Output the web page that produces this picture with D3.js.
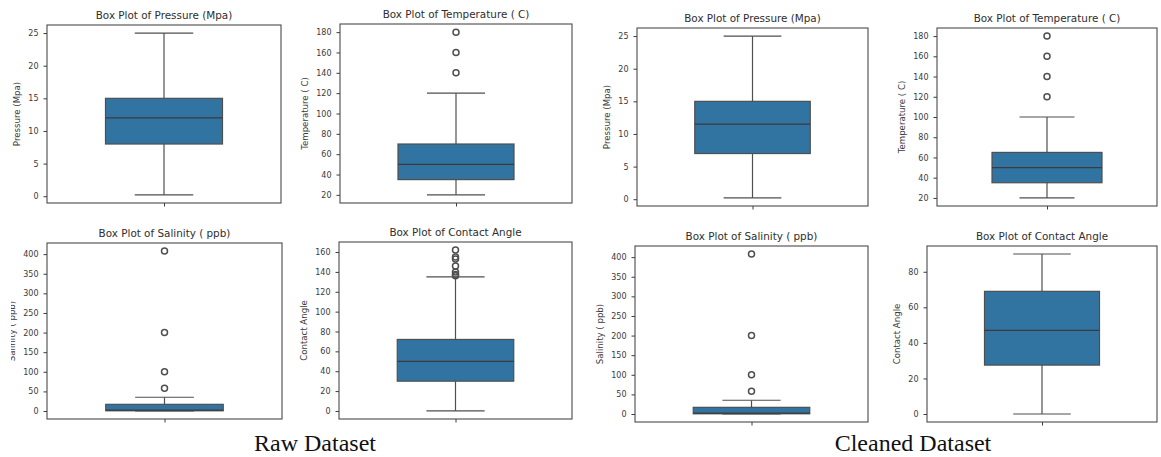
<!DOCTYPE html>
<html lang="en">
<head>
<meta charset="UTF-8">
<title>Box plots - raw vs cleaned</title>
<script src="https://cdn.jsdelivr.net/npm/d3@7"></script>
<style>
    html, body { margin: 0; padding: 0; background: #fff; }
    svg { display: block; }
    .tick text { font-family: "DejaVu Sans", sans-serif; font-size: 8px; fill: #3a3a3a; }
    .tick line { stroke: #3a3a3a; }
</style>
</head>
<body>
<svg width="1161" height="457"></svg>
<script>
    // ---- data ----
    var datasets = ["Raw Dataset", "Cleaned Dataset"];
    var variables = ["Pressure (Mpa)", "Temperature ( C)", "Salinity ( ppb)", "Contact Angle"];
    var titles = ["Box Plot of Pressure (Mpa)", "Box Plot of Temperature ( C)", "Box Plot of Salinity ( ppb)", "Box Plot of Contact Angle"];

    // raw dataset, per variable
    var rawLow = [0.2, 20, 0, 0];
    var rawQ1 = [8, 35, 0.5, 30];
    var rawMedian = [12, 50, 2, 50];
    var rawQ3 = [15, 70, 17, 72];
    var rawHigh = [25, 120, 35, 135];
    var rawOutliers = [[], [140, 160, 180], [58, 100, 200, 408], [136, 137.5, 140, 146, 153, 155, 162]];
    var rawTicks = [[0, 5, 10, 15, 20, 25], [20, 40, 60, 80, 100, 120, 140, 160, 180],
        [0, 50, 100, 150, 200, 250, 300, 350, 400], [0, 20, 40, 60, 80, 100, 120, 140, 160]];

    // cleaned dataset, per variable
    var cleanLow = [0.2, 20, 0, 0];
    var cleanQ1 = [7, 35, 0.5, 27.5];
    var cleanMedian = [11.5, 50, 2, 47];
    var cleanQ3 = [15, 65, 17, 69];
    var cleanHigh = [25, 100, 35, 90];
    var cleanOutliers = [[], [120, 140, 160, 180], [58, 100, 200, 408], []];
    var cleanTicks = [[0, 5, 10, 15, 20, 25], [20, 40, 60, 80, 100, 120, 140, 160, 180],
        [0, 50, 100, 150, 200, 250, 300, 350, 400], [0, 20, 40, 60, 80]];

    // ---- layout ----
    var svg = d3.select('svg');
    var boxFill = '#3274a1';
    var lineColor = '#4f4f4f';

    // axes frames [left, top, right, bottom]
    var frames = [
        [[47, 25, 281, 203], [340, 24, 572, 203], [47, 243, 282, 419], [339, 242, 572, 419]],
        [[637, 28, 868, 206], [937, 28, 1157, 206], [635, 246, 868, 422], [927, 246, 1157, 422]]
    ];
    var captionX = [315, 913];

    var defs = svg.append('defs');
    defs.append('clipPath').attr('id', 'cutLabel').attr('clipPathUnits', 'userSpaceOnUse')
        .append('rect').attr('x', 11).attr('y', 0).attr('width', 1150).attr('height', 457);

    function stats(d, i) {
        if (d === 0) {
            return { low: rawLow[i], q1: rawQ1[i], med: rawMedian[i], q3: rawQ3[i], high: rawHigh[i], out: rawOutliers[i], ticks: rawTicks[i] };
        }
        return { low: cleanLow[i], q1: cleanQ1[i], med: cleanMedian[i], q3: cleanQ3[i], high: cleanHigh[i], out: cleanOutliers[i], ticks: cleanTicks[i] };
    }

    function drawPanel(d, i) {
        var s = stats(d, i);
        var f = frames[d][i];
        var left = f[0], top = f[1], right = f[2], bottom = f[3];

        var lo = d3.min([s.low].concat(s.out));
        var hi = d3.max([s.high].concat(s.out));
        var pad = (hi - lo) * 0.05;

        var y = d3.scaleLinear().domain([lo - pad, hi + pad]).range([bottom, top]);
        var x = d3.scaleLinear().domain([-0.5, 0.5]).range([left, right]);

        var g = svg.append('g').attr('class', 'panel');

        // whiskers
        g.append('line')
            .attr('x1', x(0)).attr('x2', x(0)).attr('y1', y(s.q1)).attr('y2', y(s.low))
            .attr('stroke', lineColor).attr('stroke-width', 1.2);
        g.append('line')
            .attr('x1', x(0)).attr('x2', x(0)).attr('y1', y(s.q3)).attr('y2', y(s.high))
            .attr('stroke', lineColor).attr('stroke-width', 1.2);
        // caps
        [s.low, s.high].forEach(function (v) {
            g.append('line')
                .attr('x1', x(-0.125)).attr('x2', x(0.125)).attr('y1', y(v)).attr('y2', y(v))
                .attr('stroke', lineColor).attr('stroke-width', 1.2);
        });
        // box
        g.append('rect')
            .attr('x', x(-0.25)).attr('width', x(0.25) - x(-0.25))
            .attr('y', y(s.q3)).attr('height', y(s.q1) - y(s.q3))
            .attr('fill', boxFill).attr('stroke', lineColor).attr('stroke-width', 1.2);
        // median
        g.append('line')
            .attr('x1', x(-0.25)).attr('x2', x(0.25)).attr('y1', y(s.med)).attr('y2', y(s.med))
            .attr('stroke', '#3b3b3b').attr('stroke-width', 1.2);
        // fliers
        g.selectAll('circle.flier').data(s.out).enter().append('circle')
            .attr('class', 'flier')
            .attr('cx', x(0)).attr('cy', function (v) { return y(v); })
            .attr('r', 3).attr('fill', 'none')
            .attr('stroke', lineColor).attr('stroke-width', 1.5);

        // axes
        var yAxis = g.append('g').attr('transform', 'translate(' + left + ',0)')
            .call(d3.axisLeft(y).tickValues(s.ticks).tickSize(3.5).tickPadding(5));
        yAxis.select('.domain').remove();
        var xAxis = g.append('g').attr('transform', 'translate(0,' + bottom + ')')
            .call(d3.axisBottom(x).tickValues([0]).tickFormat('').tickSize(3.5));
        xAxis.select('.domain').remove();

        // frame
        g.append('rect')
            .attr('x', left).attr('y', top).attr('width', right - left).attr('height', bottom - top)
            .attr('fill', 'none').attr('stroke', '#4a4a4a').attr('stroke-width', 1.1);

        // title
        g.append('text')
            .attr('x', (left + right) / 2).attr('y', top - 6.5)
            .attr('text-anchor', 'middle')
            .style('font-family', '"DejaVu Sans", sans-serif').style('font-size', '10.4px').style('fill', '#2e2e2e')
            .text(titles[i]);

        // y label, placed left of the tick labels (bbox is in the axis group's own coords)
        var bb = yAxis.node().getBBox();
        var lx = left + bb.x - 8.5;
        var label = g.append('text')
            .attr('transform', 'translate(' + lx + ',' + (top + bottom) / 2 + ') rotate(-90)')
            .attr('text-anchor', 'middle')
            .style('font-family', '"DejaVu Sans", sans-serif').style('font-size', '8.6px').style('fill', '#3a3a3a')
            .text(variables[i]);
        if (d === 0 && i === 2) {
            // the reference image has this label trimmed at its left edge
            g.append('g').attr('clip-path', 'url(#cutLabel)').node().appendChild(label.node());
        }
    }

    datasets.forEach(function (name, d) {
        variables.forEach(function (v, i) { drawPanel(d, i); });
        svg.append('text')
            .attr('x', captionX[d]).attr('y', 451)
            .attr('text-anchor', 'middle')
            .style('font-family', '"Liberation Serif", "Times New Roman", serif').style('font-size', '24px').style('fill', '#111')
            .text(name);
    });
</script>
</body>
</html>
